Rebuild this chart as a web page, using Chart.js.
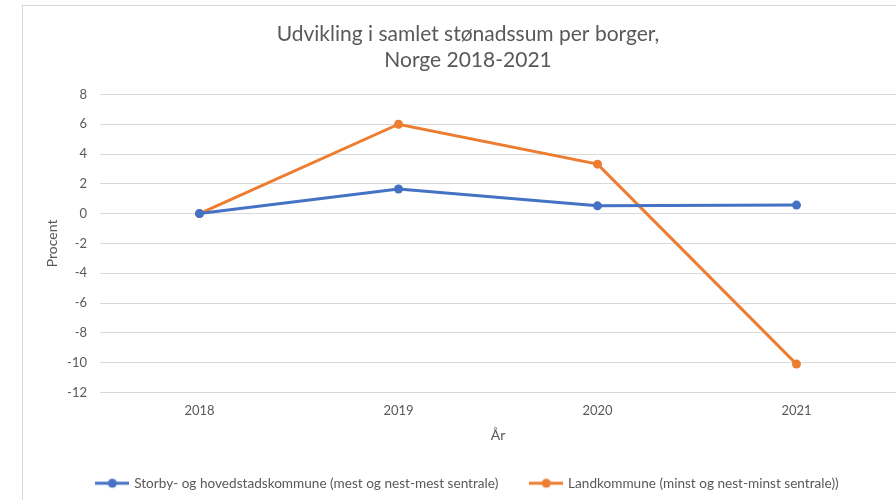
<!DOCTYPE html>
<html>
<head>
<meta charset="utf-8">
<script src="https://cdn.jsdelivr.net/npm/chart.js@4.4.1/dist/chart.umd.min.js"></script>
<style>
  html, body { margin: 0; padding: 0; background: #fff; overflow: hidden; width: 896px; height: 500px; }
  #frame { position: absolute; left: 22px; top: 5px; width: 900px; height: 520px; border: 1px solid #d9d9d9; box-sizing: border-box; }
  #wrap { position: absolute; left: 22px; top: 5px; width: 894px; height: 500px; }
</style>
</head>
<body>
<div id="frame"></div>
<div id="wrap"><canvas id="c" width="894" height="500"></canvas></div>
<script>
const categories = ["2018", "2019", "2020", "2021"];
const seriesNames = ["Storby- og hovedstadskommune (mest og nest-mest sentrale)", "Landkommune (minst og nest-minst sentrale))"];
const storbyValues = [0, 1.65, 0.52, 0.57];
const landValues = [0, 6.0, 3.32, -10.1];
const yTicks = { min: -12, max: 8, step: 2 };
const titleLines = ["Udvikling i samlet stønadssum per borger,", "Norge 2018-2021"];
const xTitle = "År";
const yTitle = "Procent";

const BLUE = "#4472C4", ORANGE = "#ED7D31", TEXT = "#595959", GRID = "#d9d9d9";
const FONT = "Lato, 'Open Sans', sans-serif";

function legendIcon(color) {
  const c = document.createElement("canvas");
  c.width = 34; c.height = 12;
  const x = c.getContext("2d");
  x.strokeStyle = color; x.lineWidth = 3;
  x.beginPath(); x.moveTo(0, 6); x.lineTo(34, 6); x.stroke();
  x.fillStyle = color;
  x.beginPath(); x.arc(17, 6, 4.5, 0, Math.PI * 2); x.fill();
  return c;
}
const icons = [legendIcon(BLUE), legendIcon(ORANGE)];

new Chart(document.getElementById("c"), {
  type: "line",
  data: {
    labels: categories,
    datasets: [
      { label: seriesNames[0], data: storbyValues, borderColor: BLUE, backgroundColor: BLUE, borderWidth: 3, pointRadius: 4.5, pointHoverRadius: 4.5, pointBorderWidth: 0, tension: 0 },
      { label: seriesNames[1], data: landValues, borderColor: ORANGE, backgroundColor: ORANGE, borderWidth: 3, pointRadius: 4.5, pointHoverRadius: 4.5, pointBorderWidth: 0, tension: 0 }
    ]
  },
  options: {
    responsive: false,
    animation: false,
    devicePixelRatio: 1,
    layout: { padding: { left: 18, right: 20, top: 4, bottom: 5 } },
    plugins: {
      title: {
        display: true,
        text: titleLines,
        color: TEXT,
        font: { family: FONT, size: 21, weight: "normal", lineHeight: 1.2 },
        padding: { top: 13, bottom: 22 }
      },
      legend: {
        position: "bottom",
        labels: {
          color: TEXT,
          font: { family: FONT, size: 13.6 },
          usePointStyle: true,
          pointStyleWidth: 30,
          padding: 33,
          generateLabels(chart) {
            return chart.data.datasets.map((ds, i) => ({
              text: ds.label,
              fillStyle: ds.borderColor,
              strokeStyle: ds.borderColor,
              fontColor: TEXT,
              lineWidth: 0,
              pointStyle: icons[i],
              hidden: false,
              datasetIndex: i
            }));
          }
        }
      },
      tooltip: { enabled: false }
    },
    scales: {
      x: {
        offset: true,
        grid: { display: false, drawTicks: false },
        border: { display: false },
        ticks: { color: TEXT, font: { family: FONT, size: 13 }, padding: 11 },
        title: { display: true, text: xTitle, color: TEXT, font: { family: FONT, size: 14 }, padding: { top: 4, bottom: 0 } },
        afterFit(s) { s.height = 51; }
      },
      y: {
        min: yTicks.min,
        max: yTicks.max,
        grid: { color: GRID, lineWidth: 1, drawTicks: false },
        border: { display: false },
        ticks: { stepSize: yTicks.step, color: TEXT, font: { family: FONT, size: 13 }, padding: 13 },
        title: { display: true, text: yTitle, color: TEXT, font: { family: FONT, size: 14 }, padding: { top: 4, bottom: 4 } },
        afterFit(s) { s.width = 60; }
      }
    }
  }
});
</script>
</body>
</html>
